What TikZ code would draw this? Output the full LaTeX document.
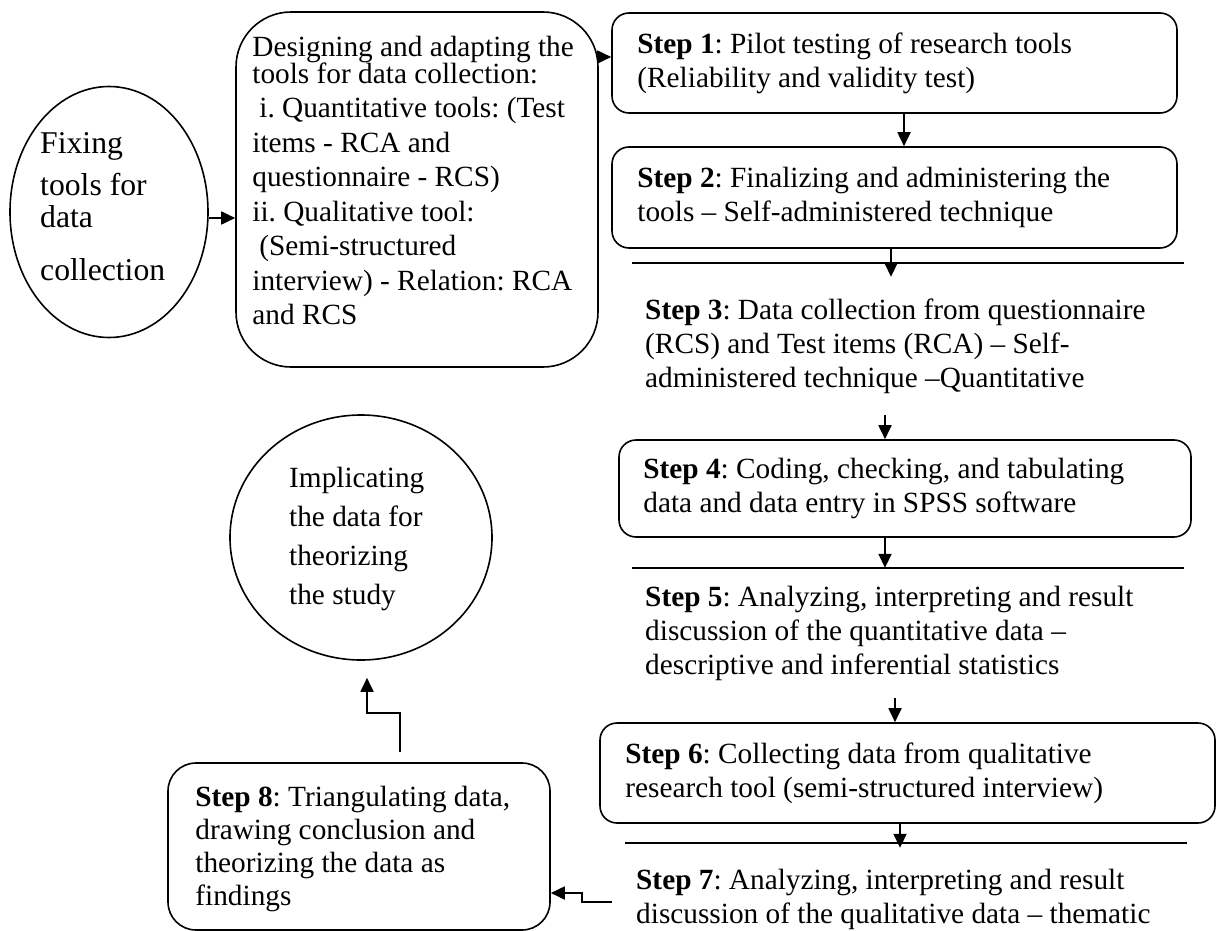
\documentclass[tikz,border=0pt]{standalone}
\usepackage{fontspec}
\setmainfont{Liberation Serif}
\frenchspacing
\usetikzlibrary{shapes.geometric,arrows.meta}
\begin{document}
\begin{tikzpicture}[x=1pt,y=-1pt,
  every node/.style={font=\fontsize{29.3}{34}\selectfont},
  boxline/.style={draw=black,line width=1.6pt},
  stepbox/.style={boxline,rectangle,rounded corners=17pt,inner sep=0pt},
  plaintext/.style={align=left,inner sep=0pt},
  oval/.style={boxline,ellipse,inner sep=0pt},
  arr/.style={line width=1.8pt,-{Triangle[length=14pt,width=13pt]}},
  rule/.style={line width=1.8pt}]
\useasboundingbox (0,0) rectangle (1220,931);

% ---------- shapes ----------
\node[oval,minimum width=198pt,minimum height=251pt] (fix) at (109,212) {};
\node[stepbox,rounded corners=55pt,minimum width=362pt,minimum height=355pt] (design) at (417,189.5) {};
\node[stepbox,minimum width=565pt,minimum height=100pt] (step1) at (894.5,63) {};
\node[stepbox,minimum width=565pt,minimum height=101pt] (step2) at (894.5,197.5) {};
\node[stepbox,minimum width=572pt,minimum height=97pt]  (step4) at (905,488.5) {};
\node[stepbox,minimum width=615pt,minimum height=100pt] (step6) at (907.5,773) {};
\node[stepbox,rounded corners=28pt,minimum width=382pt,minimum height=167pt] (step8) at (359,846.5) {};
\node[oval,minimum width=262pt,minimum height=245pt] (impl) at (361,537.5) {};

% ---------- texts ----------
\node[plaintext,anchor=west,font=\fontsize{31.7}{33}\selectfont] (fixtxt)
  at ([yshift=5pt]fix.center -| 40,0)
  {Fixing\\[9pt]tools for\\[-1pt]data\\[20pt]collection};

\node[plaintext,anchor=west,font=\fontsize{29.3}{34.5}\selectfont] (designtxt)
  at ([xshift=17pt,yshift=9pt]design.west)
  {Designing and adapting the\\[-8pt]
   tools for data collection:\\
   \hspace*{7pt}i. Quantitative tools: (Test\\
   items - RCA and\\
   questionnaire - RCS)\\
   ii. Qualitative tool:\\
   \hspace*{7pt}(Semi-structured\\
   interview) - Relation: RCA\\
   and RCS};

\node[plaintext,anchor=west] (step1txt) at ([xshift=26pt]step1.west)
  {\textbf{Step 1}: Pilot testing of research tools\\(Reliability and validity test)};

\node[plaintext,anchor=west] (step2txt) at ([xshift=26pt]step2.west)
  {\textbf{Step 2}: Finalizing and administering the\\tools – Self-administered technique};

\node[plaintext,anchor=west,minimum height=138pt] (step3) at (645,346)
  {\textbf{Step 3}: Data collection from questionnaire\\
   (RCS) and Test items (RCA) – Self-\\
   administered technique –Quantitative};

\node[plaintext,anchor=west] (step4txt) at ([xshift=25pt]step4.west)
  {\textbf{Step 4}: Coding, checking, and tabulating\\data and data entry in SPSS software};

\node[plaintext,anchor=west,minimum height=130pt] (step5) at (645,633)
  {\textbf{Step 5}: Analyzing, interpreting and result\\
   discussion of the quantitative data –\\
   descriptive and inferential statistics};

\node[plaintext,anchor=west] (step6txt) at ([xshift=26pt]step6.west)
  {\textbf{Step 6}: Collecting data from qualitative\\research tool (semi-structured interview)};

\node[plaintext,anchor=west,minimum height=102pt] (step7) at (636,899)
  {\textbf{Step 7}: Analyzing, interpreting and result\\
   discussion of the qualitative data – thematic};

\node[plaintext,anchor=west,font=\fontsize{29.3}{33}\selectfont] (step8txt)
  at ([xshift=28pt,yshift=-2pt]step8.west)
  {\textbf{Step 8}: Triangulating data,\\drawing conclusion and\\theorizing the data as\\findings};

\node[plaintext,anchor=west,font=\fontsize{29.3}{39}\selectfont] (impltxt)
  at ([yshift=-1pt]impl.center -| 289,0)
  {Implicating\\the data for\\theorizing\\the study};

% ---------- rules above the unboxed steps ----------
\draw[rule] (632,263) -- (1184,263);
\draw[rule] (632,568) -- (1184,568);
\draw[rule] (625,843) -- (1187,843);

% ---------- connectors ----------
\path ([yshift=-6pt]fix.east) coordinate (f1);
\draw[arr] (f1) -- (f1 -| design.west);

\path ([yshift=6pt]step1.west) coordinate (s1in);
\draw[arr] (s1in -| design.east) -- (s1in);

\path ([xshift=9.5pt]step1.south) coordinate (a12);
\draw[arr] (a12) -- (a12 |- step2.north);

\path ([xshift=-3.5pt]step2.south) coordinate (a23);
\draw[arr] (a23) -- (a23 |- step3.north);

\path ([xshift=-20pt]step4.north) coordinate (a34);
\draw[arr] (a34 |- step3.south) -- (a34);

\path ([xshift=-20pt]step4.south) coordinate (a45);
\draw[arr] (a45) -- (a45 |- step5.north);

\path ([xshift=-12.5pt]step6.north) coordinate (a56);
\draw[arr] (a56 |- step5.south) -- (a56);

\path ([xshift=-7.5pt]step6.south) coordinate (a67);
\draw[arr] (a67) -- (a67 |- step7.north);

\path ([xshift=-24pt,yshift=-3pt]step7.west) coordinate (e7);
\path ([yshift=-46.5pt]step8.east) coordinate (e8in);
\draw[arr] (e7) -- ++(-30,0) |- (e8in);

\path ([xshift=41pt,yshift=10pt]step8.north) coordinate (e8);
\path ([xshift=6pt,yshift=-17pt]impl.south) coordinate (ei);
\draw[arr] (e8) -- ++(0,-39) -| (ei);
\end{tikzpicture}
\end{document}
